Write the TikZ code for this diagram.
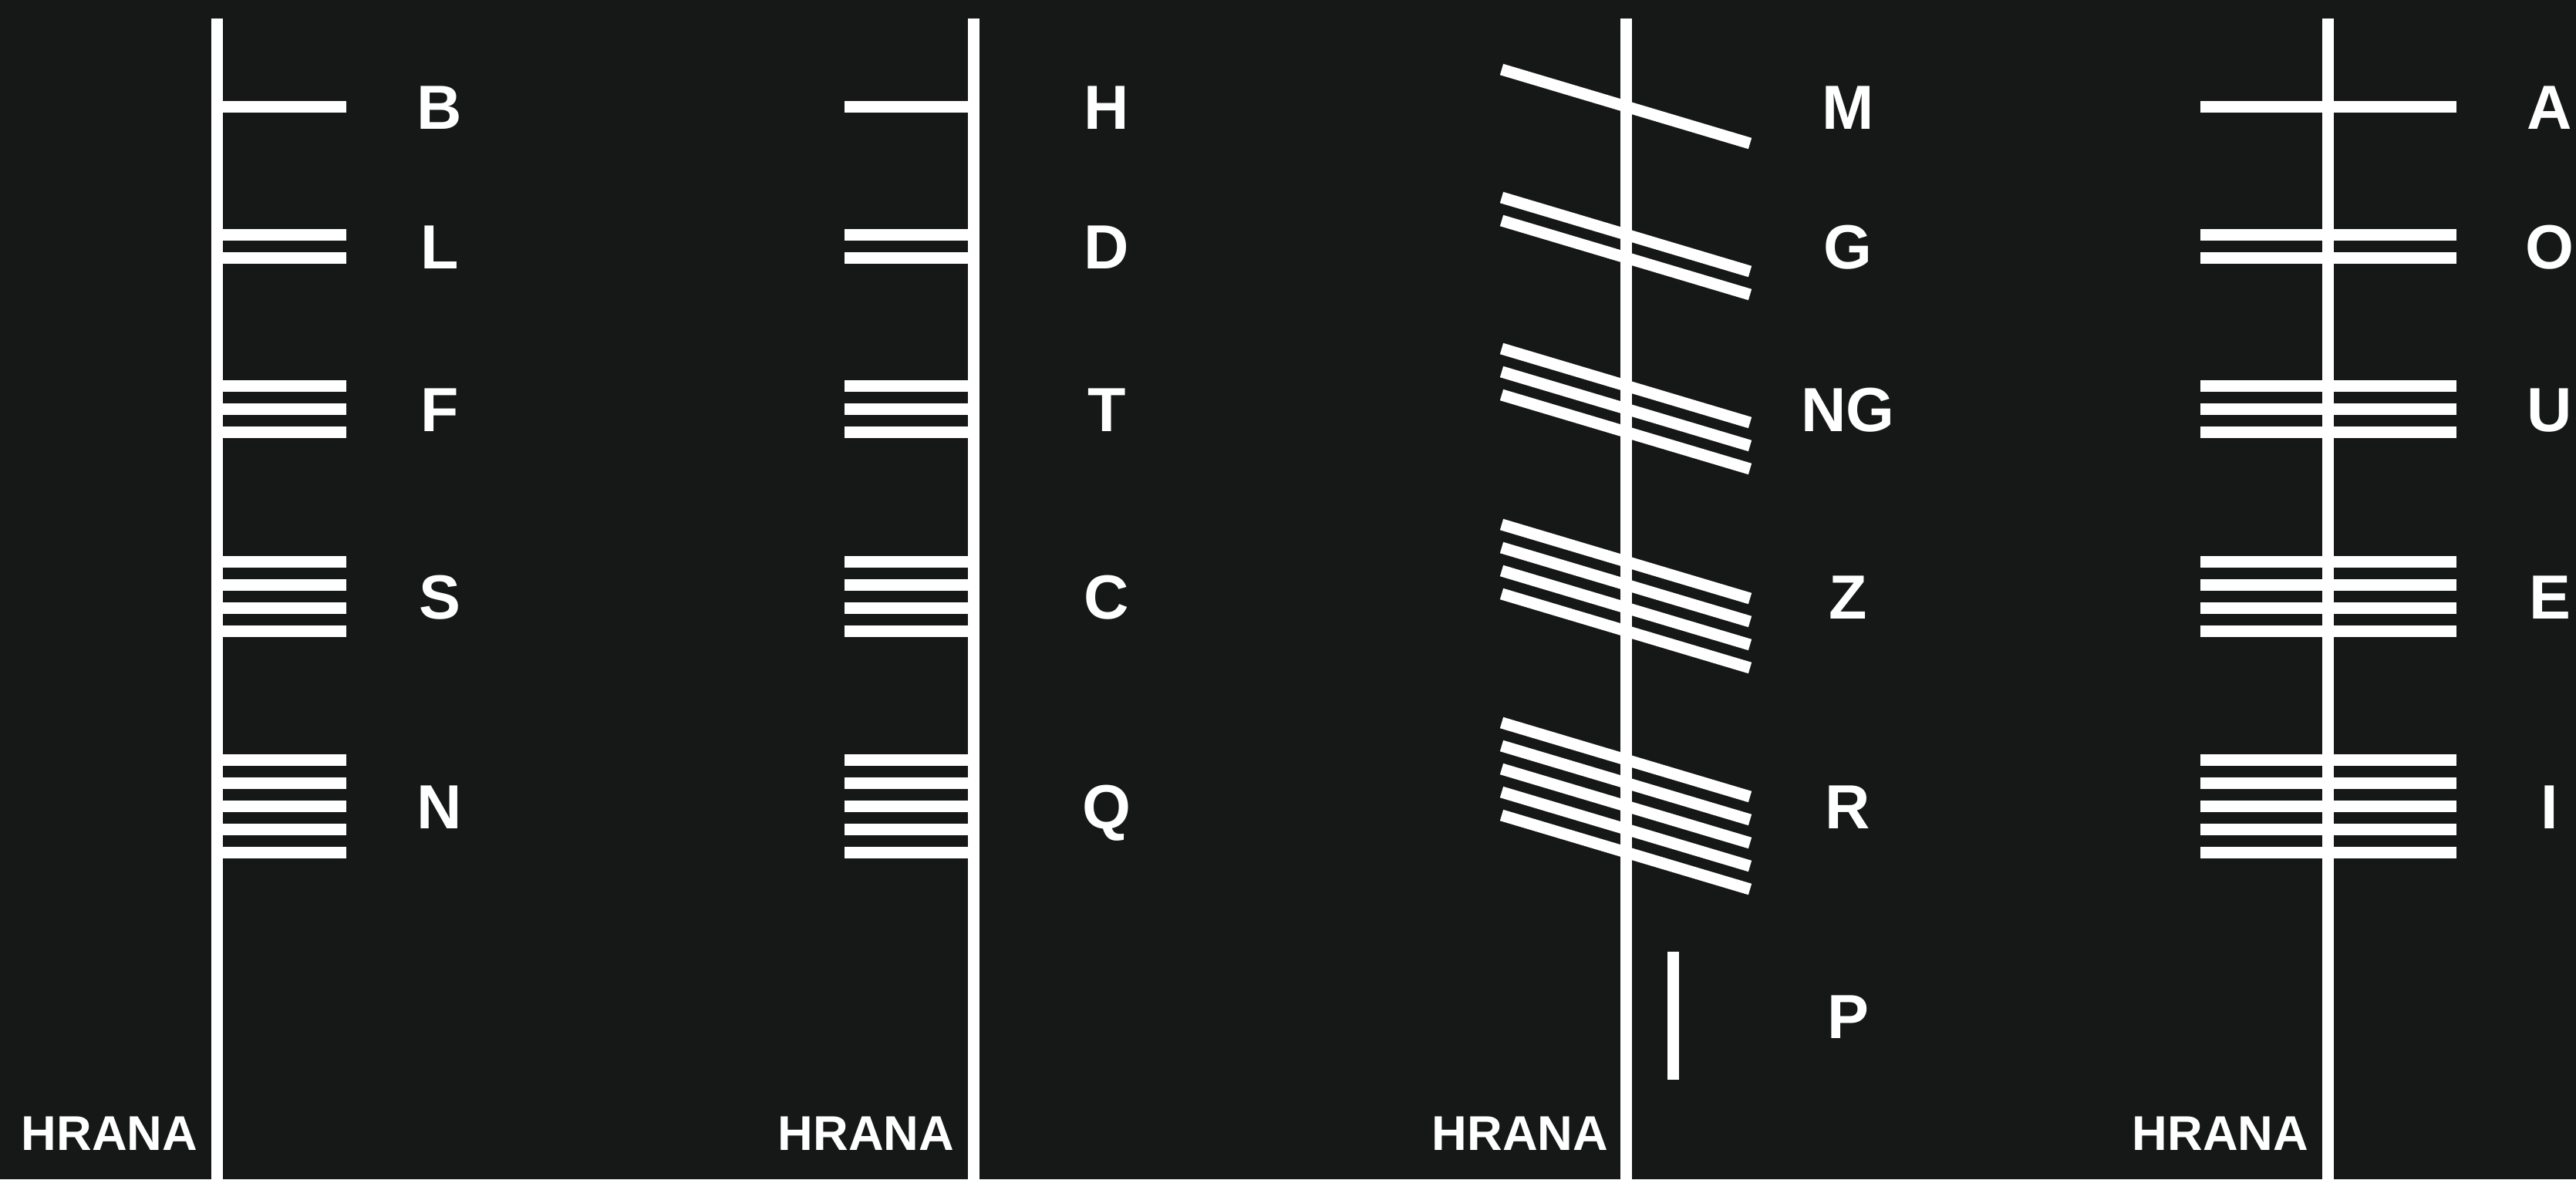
\documentclass[tikz,border=0pt]{standalone}
\usepackage{fontspec}
\setmainfont{Liberation Sans}
\usepackage{xcolor}
\usetikzlibrary{positioning}
\definecolor{bgdark}{HTML}{161817}
\tikzset{
  stem/.style={draw=white, line width=0.15cm},
  score/.style={draw=white, line width=0.15cm},
  letter/.style={text=white, inner sep=0pt, text height=0.58cm, text depth=0pt,
                 font=\fontsize{23pt}{23pt}\selectfont\bfseries},
  edgename/.style={text=white, inner sep=0pt, anchor=base east,
                   font=\fontsize{18pt}{18pt}\selectfont\bfseries},
}

\begin{document}
\begin{tikzpicture}
  % Background
  \fill[bgdark] (0,0) rectangle (33.40,-15.29);
  \useasboundingbox (0,0) rectangle (33.40,-15.29);

  % Stems
  \foreach \x/\n in {2.81/1, 12.62/2, 21.08/3, 30.18/4} {
    \coordinate (top\n) at (\x,-0.24);
    \coordinate (bot\n) at (\x,-15.29);
    \draw[stem] (top\n) -- (bot\n);
  }

  % Strokes (right, left, slanted, across)
  \foreach \y in {-1.38,-3.04,-3.34,-5.00,-5.30,-5.60,-7.28,-7.58,-7.88,-8.18,
                  -9.85,-10.15,-10.45,-10.75,-11.05} {
    \draw[score] (2.81,\y) -- (4.49,\y);
    \draw[score] (10.95,\y) -- (12.62,\y);
    \draw[score] (19.47,\y+0.48) -- (22.69,\y-0.48);
    \draw[score] (28.53,\y) -- (31.85,\y);
  }
  \coordinate (ptop) at (21.69,-12.34);
  \coordinate (pbot) at (21.69,-14.00);
  \draw[score] (ptop) -- (pbot);

  % Letters
  \foreach \t/\y in {B/-1.38, L/-3.19, F/-5.30, S/-7.73, N/-10.45}
    \node[letter] (l\t) at (5.70,\y) {\t};
  \foreach \t/\y in {H/-1.38, D/-3.19, T/-5.30, C/-7.73, Q/-10.45}
    \node[letter] (l\t) at (14.35,\y) {\t};
  \foreach \t/\y in {M/-1.38, G/-3.19, NG/-5.30, Z/-7.73, R/-10.45, P/-13.17}
    \node[letter] (l\t) at (23.96,\y) {\t};
  \foreach \t/\y in {A/-1.38, O/-3.19, U/-5.30, E/-7.73, I/-10.45}
    \node[letter] (l\t) at (33.06,\y) {\t};

  % Edge names
  \node[edgename] (edge1) at (2.57,-14.91) {HRANA};
  \node[edgename] (edge2) at (12.38,-14.91) {HRANA};
  \node[edgename] (edge3) at (20.86,-14.91) {HRANA};
  \node[edgename] (edge4) at (29.94,-14.91) {HRANA};
\end{tikzpicture}
\end{document}
